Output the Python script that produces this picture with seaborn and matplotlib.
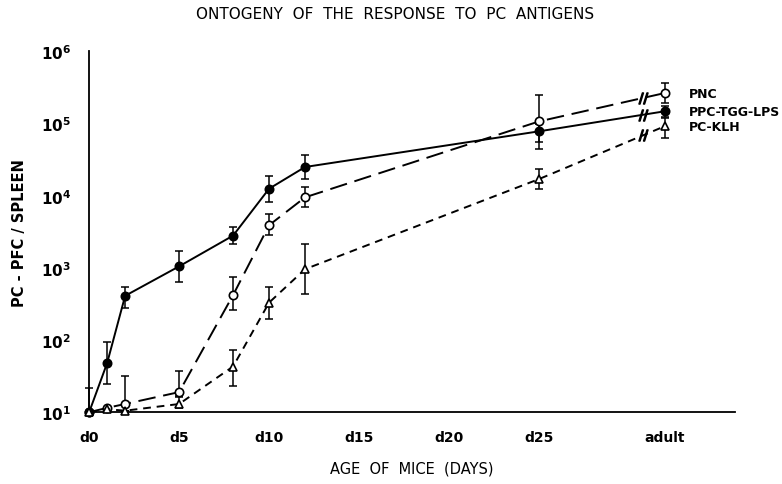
import numpy as np
import pandas as pd
import matplotlib
matplotlib.use("Agg")
import matplotlib.pyplot as plt
import seaborn as sns

# Data (day 32 = "adult")
days = [0, 1, 2, 5, 8, 10, 12, 25, 32]
tick_days = [0, 5, 10, 15, 20, 25, 32]
tick_labels = ["d0", "d5", "d10", "d15", "d20", "d25", "adult"]

pnc = [10, 11.5, 13, 19, 420, 3900, 9500, 107000, 265000]
pnc_lo = [10, 11.5, 10.5, 16.6, 257, 2900, 6900, 44000, 190000]
pnc_hi = [10, 11.5, 32, 37, 740, 5500, 13200, 250000, 360000]

ppc = [10, 48, 410, 1050, 2800, 12500, 25000, 78000, 148000]
ppc_lo = [10, 25, 280, 630, 2140, 8300, 17000, 55000, 125000]
ppc_hi = [22, 95, 540, 1700, 3700, 18600, 37000, 100000, 175000]

klh = [10, 11, 10.5, 13, 43, 330, 960, 17000, 92000]
klh_lo = [10, 11, 10.5, 11.5, 23, 195, 430, 12300, 63000]
klh_hi = [10, 11, 10.5, 16, 72, 540, 2140, 23400, 120000]

series = [
    ("PNC", pnc, pnc_lo, pnc_hi, "o", "white", (0, (9, 4))),
    ("PPC-TGG-LPS", ppc, ppc_lo, ppc_hi, "o", "black", "-"),
    ("PC-KLH", klh, klh_lo, klh_hi, "^", "white", (0, (4, 3))),
]

sns.set_style("white")
plt.rcParams["font.family"] = ["DejaVu Sans"]
plt.rcParams["text.color"] = "black"
plt.rcParams["axes.labelcolor"] = "black"
plt.rcParams["xtick.color"] = "black"
plt.rcParams["ytick.color"] = "black"

fig = plt.figure(figsize=(7.82, 4.85), dpi=100)
ax = fig.add_axes([0.114, 0.148, 0.826, 0.744])

for name, vals, lo, hi, mk, fc, ls in series:
    df = pd.DataFrame({"day": days, "pfc": vals})
    sns.lineplot(data=df, x="day", y="pfc", ax=ax, color="black", linewidth=1.4,
                 linestyle=ls, marker=mk, markersize=6, markerfacecolor=fc,
                 markeredgecolor="black", markeredgewidth=1.2, clip_on=False, zorder=3)
    v = np.array(vals, dtype=float)
    ax.errorbar(days, v, yerr=[v - np.array(lo), np.array(hi) - v], fmt="none",
                ecolor="black", elinewidth=1.1, capsize=3, capthick=1.1, clip_on=False, zorder=2)
    # break marks between d25 and adult
    bx = 30.8
    by = 10 ** np.interp(bx, [25, 32], np.log10([vals[-2], vals[-1]]))
    ax.plot([bx], [by], marker=r"$//$", markersize=8, color="black", linestyle="none", zorder=4)
    ax.annotate(name, (days[-1], vals[-1]), xytext=(17, 0), textcoords="offset points",
                ha="left", va="center", fontsize=9, fontweight="bold")

ax.set_yscale("log")
ax.set_ylim(10, 1e6)
ax.set_xlim(0, 35.9)
ax.set_yticks([1e1, 1e2, 1e3, 1e4, 1e5, 1e6])
ax.set_yticklabels([r"$\mathbf{10^{%d}}$" % k for k in range(1, 7)], fontsize=11)
ax.yaxis.set_minor_locator(matplotlib.ticker.NullLocator())
ax.set_xticks(tick_days)
ax.set_xticklabels(tick_labels, fontsize=10, fontweight="bold")
ax.tick_params(axis="both", direction="out", length=7, width=1.1, color="black", pad=6)

for s in ["top", "right"]:
    ax.spines[s].set_visible(False)
for s in ["left", "bottom"]:
    ax.spines[s].set_color("black")
    ax.spines[s].set_linewidth(1.3)

ax.set_xlabel("AGE  OF  MICE  (DAYS)", fontsize=10.5, labelpad=12)
ax.set_ylabel("PC - PFC / SPLEEN", fontsize=10.5, fontweight="bold", labelpad=10)
fig.suptitle("ONTOGENY  OF  THE  RESPONSE  TO  PC  ANTIGENS", x=0.505, y=0.985, fontsize=11)

fig.savefig("out.png", dpi=100)
